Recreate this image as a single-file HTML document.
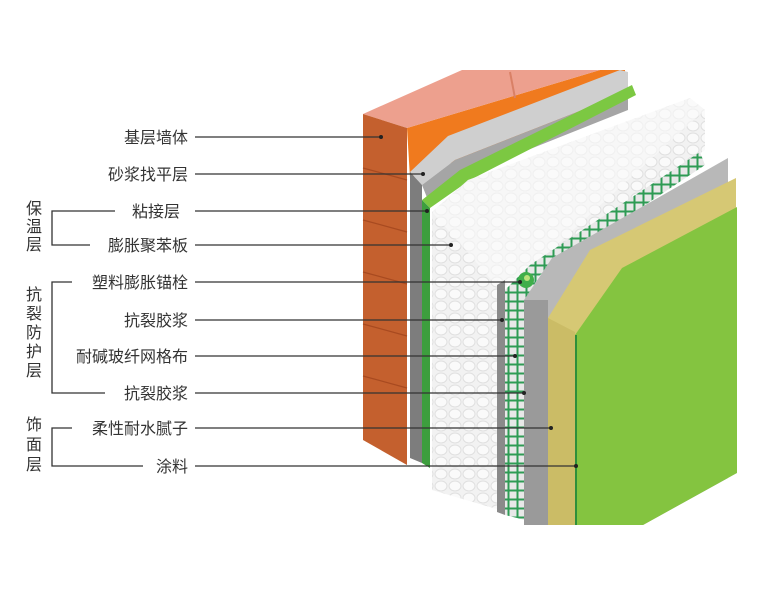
<!DOCTYPE html>
<html><head><meta charset="utf-8"><style>
html,body{margin:0;padding:0;background:#fff;}
svg{display:block}
text{font-family:"Liberation Sans","Noto Sans CJK SC",sans-serif;font-size:16px;fill:#333;}
</style></head><body>
<svg width="783" height="603" viewBox="0 0 783 603" xmlns="http://www.w3.org/2000/svg">
<defs>
<pattern id="eps" width="14" height="12" patternUnits="userSpaceOnUse">
<rect width="14" height="12" fill="#f2f2f2"/>
<ellipse cx="7" cy="6" rx="6" ry="5" fill="#fafafa" stroke="#e0e0e0" stroke-width="1"/>
</pattern>
<pattern id="mesh" width="9" height="9" patternUnits="userSpaceOnUse">
<rect width="9" height="9" fill="#e8e8e8"/>
<path d="M0 4.5H9M4.5 0V9" stroke="#2e9b54" stroke-width="2"/>
</pattern>
</defs>
<!-- brick -->
<polygon points="407,128 600,70 625,70 625,100 410,178" fill="#f07a1e"/>
<polygon points="363,114 462,70 600,70 407,128" fill="#eda08e"/>
<line x1="510" y1="72" x2="515" y2="98" stroke="#d98066" stroke-width="2"/>
<polygon points="363,114 407,128 407,465 363,440" fill="#c4602e"/>
<g stroke="#a84a20" stroke-width="1.2">
<line x1="363" y1="168" x2="407" y2="180"/><line x1="363" y1="220" x2="407" y2="232"/>
<line x1="363" y1="272" x2="407" y2="284"/><line x1="363" y1="324" x2="407" y2="336"/>
<line x1="363" y1="376" x2="407" y2="388"/>
</g>
<!-- mortar -->
<polygon points="410,172 448,136 620,70 628,72 628,92 455,160 422,185" fill="#cfcfcf"/>
<polygon points="422,185 455,160 628,92 628,110 465,175 430,205" fill="#a5a5a5"/>
<polygon points="410,172 422,185 422,463 410,458" fill="#7d7d7d"/>
<!-- adhesive -->
<polygon points="422,200 460,170 632,85 636,95 470,180 430,208" fill="#7cc842"/>
<polygon points="422,200 430,208 430,468 422,463" fill="#3d9e3e"/>
<!-- EPS -->
<polygon points="432,212 468,180 690,98 705,110 705,150 540,260 500,290 500,510 432,490" fill="url(#eps)"/>
<polygon points="432,212 468,180 690,98 705,110 540,260 500,290 470,255" fill="#fafafa" opacity="0.6"/>
<!-- mesh region -->
<polygon points="497,285 505,280 505,515 497,512" fill="#8a8a8a"/>
<polygon points="505,290 530,265 700,152 705,165 540,275 525,300 525,520 505,515" fill="url(#mesh)"/>
<circle cx="526" cy="280" r="8" fill="#3fae4a"/><circle cx="527" cy="278" r="3" fill="#b9e27a"/>
<!-- finishing mortar -->
<polygon points="524,300 552,258 728,158 728,478 643,525 524,525" fill="#b8b8b8"/>
<polygon points="524,300 548,300 548,525 524,525" fill="#9a9a9a"/>
<!-- putty -->
<polygon points="548,318 590,250 736,178 736,473 643,525 548,525" fill="#d6c874"/>
<polygon points="548,318 575,332 575,525 548,525" fill="#cbbc66"/>
<!-- paint -->
<polygon points="575,335 622,268 737,207 737,473 643,525 575,525" fill="#84c440"/>
<line x1="576" y1="335" x2="576" y2="525" stroke="#2f8f3a" stroke-width="2"/>
<!-- leaders -->
<g stroke="#333" stroke-width="1.3">
<line x1="195" y1="137" x2="381" y2="137"/>
<line x1="195" y1="174" x2="423" y2="174"/>
<line x1="195" y1="211" x2="427" y2="211"/>
<line x1="195" y1="245" x2="451" y2="245"/>
<line x1="195" y1="282" x2="520" y2="282"/>
<line x1="195" y1="320" x2="502" y2="320"/>
<line x1="195" y1="356" x2="515" y2="356"/>
<line x1="195" y1="393" x2="524" y2="393"/>
<line x1="195" y1="428" x2="551" y2="428"/>
<line x1="195" y1="466" x2="576" y2="466"/>
</g>
<g fill="#222">
<circle cx="381" cy="137" r="2"/><circle cx="423" cy="174" r="2"/><circle cx="427" cy="211" r="2"/>
<circle cx="451" cy="245" r="2"/><circle cx="520" cy="282" r="2"/><circle cx="502" cy="320" r="2"/>
<circle cx="515" cy="356" r="2"/><circle cx="524" cy="393" r="2"/><circle cx="551" cy="428" r="2"/><circle cx="576" cy="466" r="2"/>
</g>
<!-- brackets -->
<g stroke="#333" stroke-width="1.3" fill="none">
<polyline points="115,211 52,211 52,245 90,245"/>
<polyline points="72,282 52,282 52,393 105,393"/>
<polyline points="72,428 52,428 52,466 143,466"/>
</g>
<g text-anchor="end">
<text x="188" y="143">基层墙体</text>
<text x="188" y="180">砂浆找平层</text>
<text x="180" y="217">粘接层</text>
<text x="188" y="251">膨胀聚苯板</text>
<text x="188" y="288">塑料膨胀锚栓</text>
<text x="188" y="326">抗裂胶浆</text>
<text x="188" y="362">耐碱玻纤网格布</text>
<text x="188" y="399">抗裂胶浆</text>
<text x="188" y="434">柔性耐水腻子</text>
<text x="188" y="472">涂料</text>
</g>
<g text-anchor="middle">
<text x="34" y="214">保</text><text x="34" y="232">温</text><text x="34" y="250">层</text>
<text x="34" y="300">抗</text><text x="34" y="319">裂</text><text x="34" y="338">防</text><text x="34" y="357">护</text><text x="34" y="376">层</text>
<text x="34" y="430">饰</text><text x="34" y="450">面</text><text x="34" y="470">层</text>
</g>
</svg>
</body></html>
